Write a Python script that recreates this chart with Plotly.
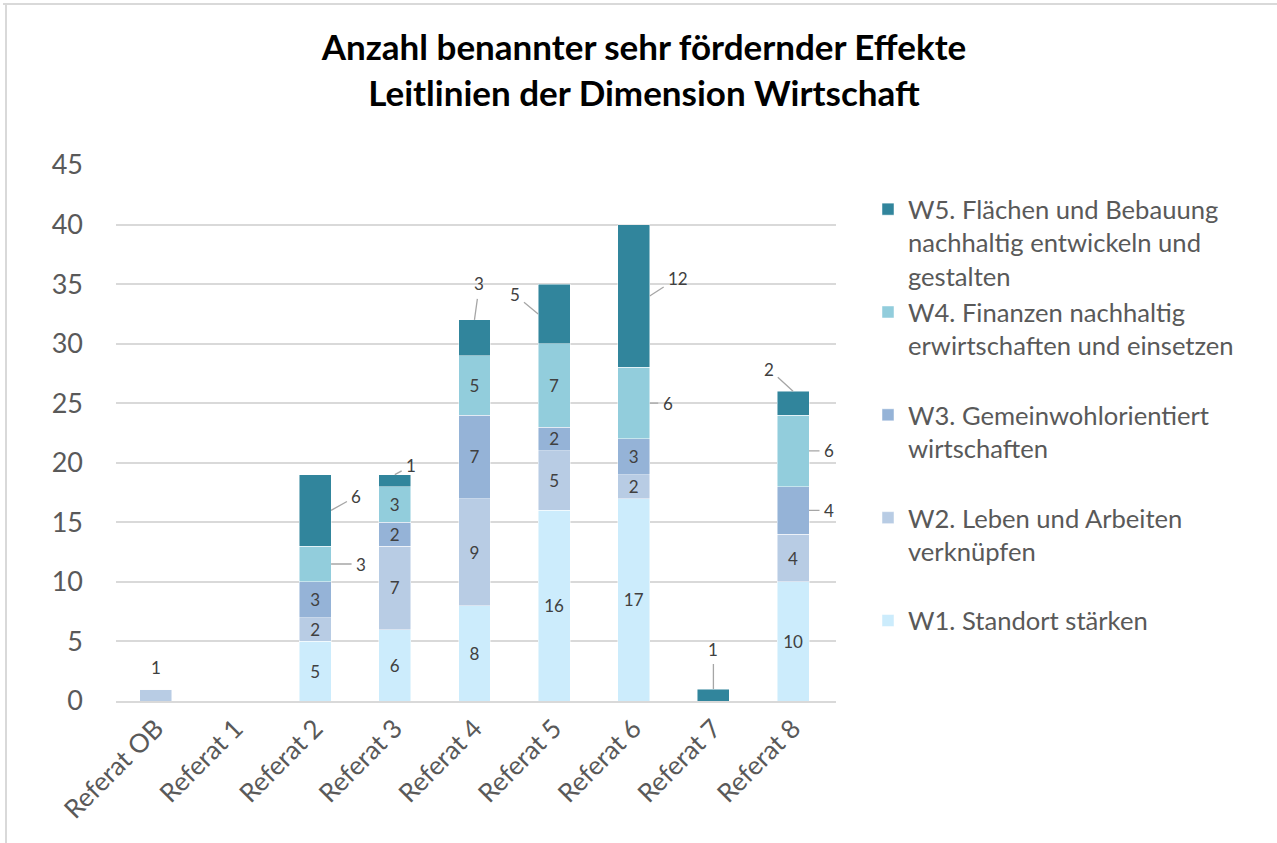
import plotly.graph_objects as go

categories = ["Referat OB", "Referat 1", "Referat 2", "Referat 3", "Referat 4",
              "Referat 5", "Referat 6", "Referat 7", "Referat 8"]
series_names = [
    "W1. Standort stärken",
    "W2. Leben und Arbeiten<br>verknüpfen",
    "W3. Gemeinwohlorientiert<br>wirtschaften",
    "W4. Finanzen nachhaltig<br>erwirtschaften und einsetzen",
    "W5. Flächen und Bebauung<br>nachhaltig entwickeln und<br>gestalten",
]
w1 = [0, 0, 5, 6, 8, 16, 17, 0, 10]
w2 = [1, 0, 2, 7, 9, 5, 2, 0, 4]
w3 = [0, 0, 3, 2, 7, 2, 3, 0, 4]
w4 = [0, 0, 3, 3, 5, 7, 6, 0, 6]
w5 = [0, 0, 6, 1, 3, 5, 12, 1, 2]
series_values = [w1, w2, w3, w4, w5]
colors = ["#CCECFC", "#B8CCE4", "#95B3D7", "#92CDDC", "#31859C"]

# labels drawn outside the bar: (category index, series index, anchor, dx, dy)
callouts = [
    (0, 1, "top", 0, -22),
    (2, 4, "right", 25, -14),
    (2, 3, "right", 30, 0),
    (3, 4, "top", 16, -9),
    (4, 4, "top", 5, -36),
    (5, 4, "left", -23, -19),
    (6, 4, "right", 28, -18),
    (6, 3, "right", 18, 0),
    (7, 4, "top", 0, -40),
    (8, 4, "top", -24, -22),
    (8, 3, "right", 20, 0),
    (8, 2, "right", 20, 0),
]
callout_set = {(c, s) for c, s, *_ in callouts}

FONT = "Lato, Carlito, Calibri, sans-serif"
fig = go.Figure()
for si, (name, vals, col) in enumerate(zip(series_names, series_values, colors)):
    texts = [str(v) if v > 0 and (ci, si) not in callout_set else ""
             for ci, v in enumerate(vals)]
    pad = "<br> " * (2 - name.count("<br>"))
    fig.add_trace(go.Bar(
        x=categories, y=vals, name=name + pad, legendrank=10 - si,
        marker=dict(color=col, line=dict(color="rgba(255,255,255,0.6)", width=0.8)),
        text=texts, textposition="inside", insidetextanchor="middle", textangle=0,
        textfont=dict(family=FONT, size=17, color="#404040"),
        constraintext="none", width=0.4, hoverinfo="skip",
    ))

annotations = []
for ci, si, anchor, dx, dy in callouts:
    base = sum(series_values[k][ci] for k in range(si))
    v = series_values[si][ci]
    if anchor == "top":
        x, y = ci, base + v
    elif anchor == "right":
        x, y = ci + 0.2, base + v / 2
    else:
        x, y = ci - 0.2, base + v / 2
    show = not (ci == 0)
    annotations.append(dict(
        x=x, y=y, xref="x", yref="y", text=str(v),
        showarrow=True, arrowhead=0, arrowwidth=1.3, arrowcolor="#A6A6A6",
        ax=dx, ay=dy, standoff=0, startstandoff=3 if show else 100,
        font=dict(family=FONT, size=17, color="#404040"),
    ))

# border lines of the chart frame (top and left)
shapes = [
    dict(type="line", xref="paper", yref="paper", x0=(3 - 116) / 720, x1=(1277 - 116) / 720,
         y0=(701 - 4) / 536, y1=(701 - 4) / 536, line=dict(color="#D9D9D9", width=2)),
    dict(type="line", xref="paper", yref="paper", x0=(6 - 116) / 720, x1=(6 - 116) / 720,
         y0=(701 - 4) / 536, y1=(701 - 843) / 536, line=dict(color="#D9D9D9", width=2)),
]

fig.update_layout(
    barmode="stack",
    width=1277, height=843,
    margin=dict(l=116, r=441, t=165, b=142, autoexpand=False),
    paper_bgcolor="white", plot_bgcolor="white",
    title=dict(
        text="<b>Anzahl benannter sehr fördernder Effekte<br>Leitlinien der Dimension Wirtschaft</b>",
        x=644 / 1277, xref="container", xanchor="center",
        y=1 - 60 / 843, yref="container", yanchor="top",
        font=dict(family=FONT, size=35, color="#000000"),
    ),
    font=dict(family=FONT, color="#595959"),
    showlegend=True,
    legend=dict(
        x=(868 - 116) / 720, y=(701 - 186) / 536, xanchor="left", yanchor="top",
        traceorder="normal", valign="top",
        font=dict(family=FONT, size=25.6, color="#595959"),
        itemwidth=30, bgcolor="rgba(0,0,0,0)",
    ),
    xaxis=dict(
        type="category", tickangle=-45, showgrid=False, showline=True,
        linecolor="#D9D9D9", linewidth=2, ticks="",
        tickfont=dict(family=FONT, size=26, color="#595959"),
    ),
    yaxis=dict(
        range=[0, 45], dtick=5, showgrid=True, gridcolor="#D9D9D9", gridwidth=1.5,
        zeroline=False, showline=False, ticks="",
        tickfont=dict(family=FONT, size=27, color="#595959"),
        ticklabelstandoff=32,
    ),
    annotations=annotations,
    shapes=shapes,
)

fig.write_html("out.html", config={"displayModeBar": False},
               post_script="document.body.style.margin='0';")
